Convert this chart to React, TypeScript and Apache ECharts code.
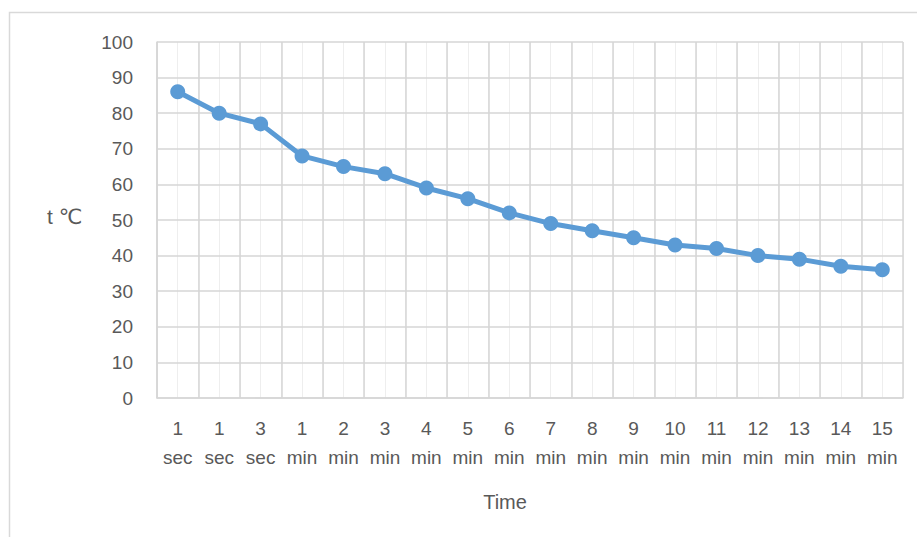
import React, { useEffect, useRef } from "react";
import * as echarts from "echarts";

const categories: string[] = [
  "1\nsec", "1\nsec", "3\nsec",
  "1\nmin", "2\nmin", "3\nmin", "4\nmin", "5\nmin", "6\nmin", "7\nmin",
  "8\nmin", "9\nmin", "10\nmin", "11\nmin", "12\nmin", "13\nmin", "14\nmin", "15\nmin",
];
const temperatures: number[] = [86, 80, 77, 68, 65, 63, 59, 56, 52, 49, 47, 45, 43, 42, 40, 39, 37, 36];
const yName = "t ℃";
const xName = "Time";

const FONT = "'Liberation Sans', 'DejaVu Sans', sans-serif";
const TEXT = "#595959";

export default function App() {
  const ref = useRef<HTMLDivElement>(null);
  useEffect(() => {
    if (!ref.current) return;
    const chart = echarts.init(ref.current, null, { renderer: "svg" });
    chart.setOption({
      animation: false,
      backgroundColor: "#ffffff",
      textStyle: { fontFamily: FONT },
      grid: { left: 157, right: 14, top: 42, bottom: 139, containLabel: false },
      graphic: [
        {
          type: "rect",
          shape: { x: 9.5, y: 12.5, width: 930, height: 560 },
          style: { fill: "none", stroke: "#d9d9d9", lineWidth: 1.5 },
          silent: true,
        },
        {
          type: "text",
          left: 47,
          top: 206,
          style: { text: yName, fontSize: 21, fill: TEXT, fontFamily: FONT },
        },
        {
          type: "text",
          x: 505,
          y: 502,
          style: {
            text: xName,
            fontSize: 20,
            fill: TEXT,
            fontFamily: FONT,
            align: "center",
            verticalAlign: "middle",
          },
        },
      ],
      xAxis: [
        {
          type: "value",
          min: 0,
          max: categories.length * 2,
          interval: 1,
          position: "bottom",
          z: 0,
          axisLine: { show: false },
          axisTick: { show: false },
          axisLabel: { show: false },
          splitLine: { show: true, lineStyle: { color: "#eeeeee", width: 1 } },
        },
        {
          type: "category",
          data: categories,
          boundaryGap: true,
          position: "bottom",
          z: 2,
          axisLine: { show: true, lineStyle: { color: "#d6d6d6", width: 1.5 } },
          axisTick: { show: false },
          axisLabel: {
            interval: 0,
            color: TEXT,
            fontSize: 19,
            lineHeight: 29,
            margin: 16,
            fontFamily: FONT,
          },
          splitLine: { show: true, interval: 0, lineStyle: { color: "#d6d6d6", width: 1.5 } },
        },
      ],
      yAxis: {
        type: "value",
        min: 0,
        max: 100,
        interval: 10,
        z: 2,
        axisLine: { show: true, lineStyle: { color: "#d6d6d6", width: 1.5 } },
        axisTick: { show: false },
        axisLabel: { color: TEXT, fontSize: 19, margin: 24, fontFamily: FONT },
        splitLine: { show: true, lineStyle: { color: "#d6d6d6", width: 1.5 } },
      },
      series: [
        {
          type: "line",
          xAxisIndex: 1,
          data: temperatures,
          z: 5,
          symbol: "circle",
          symbolSize: 15,
          lineStyle: { color: "#5b9bd5", width: 5 },
          itemStyle: { color: "#5b9bd5" },
        },
      ],
    });
    return () => chart.dispose();
  }, []);
  return (
    <div
      ref={ref}
      style={{ position: "absolute", left: 0, top: 0, width: 917, height: 537 }}
    />
  );
}
